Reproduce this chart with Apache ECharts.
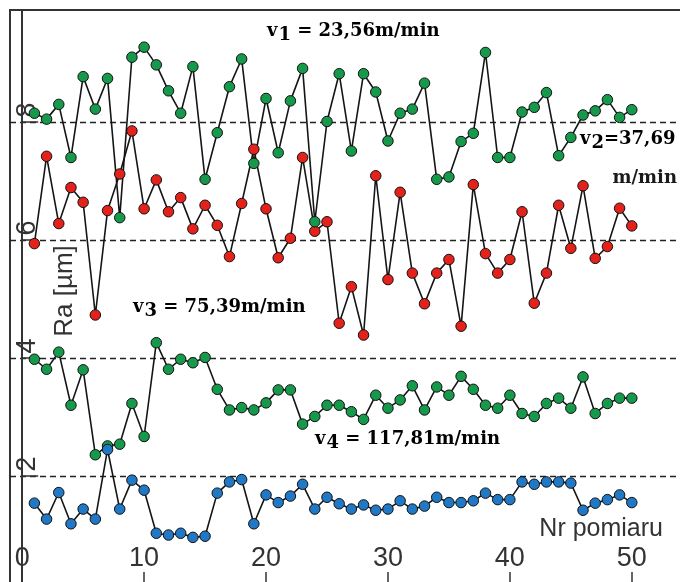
<!DOCTYPE html>
<html>
<head>
<meta charset="utf-8">
<script src="https://cdn.jsdelivr.net/npm/echarts@6/dist/echarts.min.js"></script>
<style>
    html, body { margin: 0; padding: 0; background: #fff; }
    #chart { width: 680px; height: 582px; }
</style>
</head>
<body>
<div id="chart"></div>
<script>
    // numer pomiaru
    var pomiar = [1, 2, 3, 4, 5, 6, 7, 8, 9, 10, 11, 12, 13, 14, 15, 16, 17, 18, 19, 20,
        21, 22, 23, 24, 25, 26, 27, 28, 29, 30, 31, 32, 33, 34, 35, 36, 37, 38, 39, 40,
        41, 42, 43, 44, 45, 46, 47, 48, 49, 50];

    // Ra [um] dla kolejnych predkosci skrawania
    var v1 = [8.15, 8.05, 8.30, 7.40, 8.77, 8.22, 8.74, 6.38, 9.10, 9.27,
        8.97, 8.53, 8.15, 8.94, 7.03, 7.82, 8.60, 9.07, 7.30, 8.40,
        7.48, 8.36, 8.91, 6.31, 8.01, 8.82, 7.51, 8.82, 8.51, 7.68,
        8.15, 8.22, 8.66, 7.03, 7.07, 7.67, 7.81, 9.18, 7.40, 7.40,
        8.17, 8.25, 8.50, 7.43, 7.74, 8.12, 8.19, 8.38, 8.08, 8.21];
    var v2 = [5.94, 7.42, 6.28, 6.89, 6.64, 4.73, 6.50, 7.12, 7.85, 6.53,
        7.02, 6.48, 6.72, 6.19, 6.59, 6.25, 5.72, 6.62, 7.54, 6.53,
        5.70, 6.03, 7.40, 6.15, 6.31, 4.59, 5.21, 4.39, 7.09, 5.33,
        6.81, 5.44, 4.92, 5.44, 5.67, 4.54, 6.94, 5.77, 5.44, 5.67,
        6.48, 4.93, 5.44, 6.59, 5.86, 6.92, 5.69, 5.89, 6.54, 6.24];
    var v3 = [3.98, 3.81, 4.10, 3.20, 3.80, 2.36, 2.51, 2.54, 3.23, 2.67,
        4.26, 3.81, 3.98, 3.92, 4.01, 3.47, 3.12, 3.16, 3.12, 3.24,
        3.46, 3.46, 2.88, 3.01, 3.20, 3.20, 3.09, 2.96, 3.37, 3.15,
        3.29, 3.53, 3.12, 3.51, 3.37, 3.69, 3.47, 3.20, 3.15, 3.37,
        3.06, 3.01, 3.23, 3.32, 3.15, 3.68, 3.06, 3.23, 3.32, 3.32];
    var v4 = [1.54, 1.27, 1.72, 1.19, 1.44, 1.27, 2.45, 1.44, 1.93, 1.76,
        1.03, 1.00, 1.03, 0.96, 0.98, 1.71, 1.90, 1.94, 1.19, 1.68,
        1.55, 1.66, 1.86, 1.44, 1.64, 1.53, 1.44, 1.51, 1.42, 1.44,
        1.58, 1.44, 1.49, 1.64, 1.55, 1.55, 1.58, 1.71, 1.60, 1.60,
        1.90, 1.86, 1.90, 1.90, 1.88, 1.42, 1.54, 1.60, 1.68, 1.55];

    var xTicks = [0, 10, 20, 30, 40, 50];
    var yTicks = [2, 4, 6, 8];

    var sans = "'Liberation Sans Narrow', 'Liberation Sans', Arial, sans-serif";
    var serif = "'DejaVu Serif', 'Liberation Serif', serif";

    function pairs(values) {
        return pomiar.map(function (n, i) { return [n, values[i]]; });
    }

    function makeSeries(name, values, color) {
        return {
            name: name,
            type: 'line',
            data: pairs(values),
            symbol: 'circle',
            symbolSize: 10.5,
            lineStyle: { color: '#151515', width: 1.6 },
            itemStyle: { color: color, borderColor: '#111', borderWidth: 1 },
            emphasis: { disabled: true },
            animation: false
        };
    }

    var rich = {
        v: { fontSize: 18, fontWeight: 'bold', fontFamily: serif, color: '#1a1a1a', lineHeight: 22, verticalAlign: 'top' },
        s: { fontSize: 18, fontWeight: 'bold', fontFamily: serif, color: '#1a1a1a', lineHeight: 22, padding: [9, 0, 0, 1], verticalAlign: 'bottom' },
        t: { fontSize: 18, fontWeight: 'bold', fontFamily: serif, color: '#1a1a1a', lineHeight: 22, verticalAlign: 'top' }
    };

    function vLabel(x, y, sub, rest) {
        return {
            type: 'text', x: x, y: y, z: 100,
            style: { text: '{v|v}{s|' + sub + '}{t|' + rest + '}', rich: rich, verticalAlign: 'top' }
        };
    }

    var chart = echarts.init(document.getElementById('chart'), null, { renderer: 'canvas' });
    chart.setOption({
        backgroundColor: '#fff',
        animation: false,
        grid: {
            left: 10, right: -3, top: 10, bottom: -12,
            show: true, borderColor: '#333', borderWidth: 2,
            outerBoundsMode: 'none'
        },
        xAxis: {
            type: 'value',
            min: -1,
            max: 54.2,
            axisLine: { show: false },
            splitLine: { show: false },
            axisTick: { show: true, inside: true, length: 22, customValues: xTicks, lineStyle: { color: '#333', width: 1.5 } },
            axisLabel: { inside: true, margin: 22, customValues: xTicks, fontSize: 27, fontFamily: sans, color: '#333' }
        },
        yAxis: {
            type: 'value',
            min: 0,
            max: 9.9,
            interval: 2,
            name: 'Ra [µm]',
            nameLocation: 'middle',
            nameRotate: 90,
            nameGap: -68,
            nameMoveOverlap: false,
            nameTextStyle: { fontSize: 26, fontFamily: "'Liberation Sans', Arial, sans-serif", color: '#333', padding: [0, 0, 0, 22] },
            axisLine: { show: true, lineStyle: { color: '#333', width: 2 } },
            axisTick: { show: true, inside: true, length: 16, customValues: yTicks, lineStyle: { color: '#333', width: 1.5 } },
            axisLabel: { inside: true, rotate: 90, margin: 4, customValues: yTicks, fontSize: 27, fontFamily: sans, color: '#333', padding: [0, 0, 0, 24] },
            splitLine: { show: true, lineStyle: { color: '#222', width: 1.3, type: [6, 4] } }
        },
        series: [
            makeSeries('v2', v2, '#e3231b'),
            makeSeries('v1', v1, '#16994a'),
            makeSeries('v3', v3, '#16994a'),
            makeSeries('v4', v4, '#2178c4')
        ],
        graphic: [
            vLabel(267, 22, '1', ' = 23,56m/min'),
            vLabel(580, 130, '2', '=37,69'),
            {
                type: 'text', x: 677, y: 178, z: 100,
                style: { text: 'm/min', fontSize: 18, fontWeight: 'bold', fontFamily: serif, fill: '#1a1a1a', align: 'right', verticalAlign: 'middle' }
            },
            vLabel(133, 298, '3', ' = 75,39m/min'),
            vLabel(315, 430, '4', ' = 117,81m/min'),
            {
                type: 'text', x: 663, y: 529, z: 100,
                style: { text: 'Nr pomiaru', fontSize: 25, fontFamily: "'Liberation Sans', Arial, sans-serif", fill: '#333', align: 'right', verticalAlign: 'middle' }
            }
        ]
    });
</script>
</body>
</html>
